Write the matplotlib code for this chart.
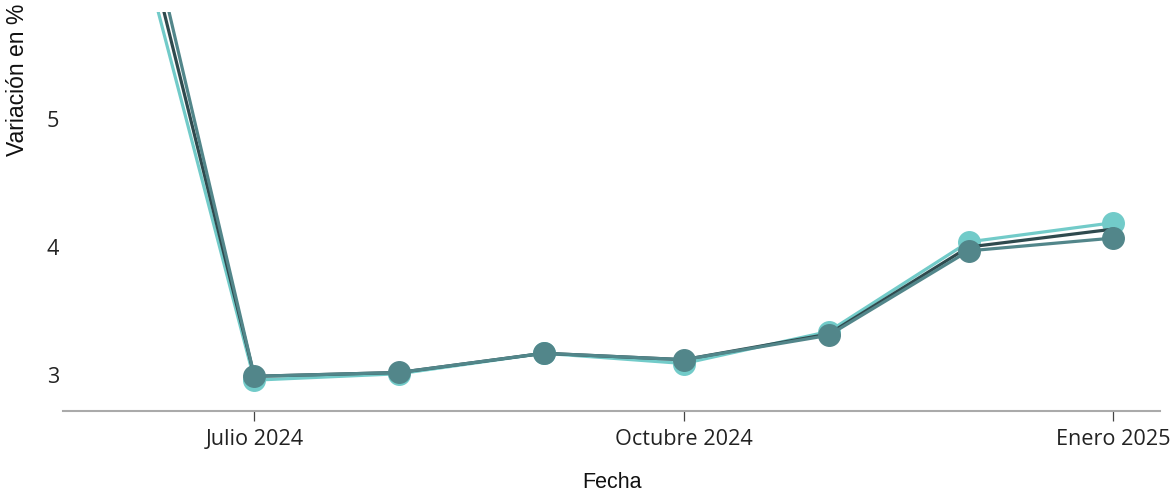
import numpy as np
import pandas as pd
import matplotlib
matplotlib.use("Agg")
import matplotlib.pyplot as plt

# data (monthly, % variation)
fechas = pd.to_datetime(["2024-06-01", "2024-07-01", "2024-08-01", "2024-09-01",
                         "2024-10-01", "2024-11-01", "2024-12-01", "2025-01-01"])
serie_clara = [7.15, 2.96, 3.01, 3.17, 3.09, 3.34, 4.04, 4.19]
serie_oscura = [7.40, 2.99, 3.02, 3.17, 3.12, 3.32, 4.00, 4.14]
serie_media = [7.66, 2.99, 3.02, 3.17, 3.12, 3.31, 3.97, 4.07]

tick_fechas = pd.to_datetime(["2024-07-01", "2024-10-01", "2025-01-01"])
tick_labels = ["Julio 2024", "Octubre 2024", "Enero 2025"]
y_ticks = [3, 4, 5]

col_clara = "#72cbc9"
col_oscura = "#2f4a4e"
col_media = "#52868a"

fig = plt.figure(figsize=(11.72, 5.0), dpi=100)
ax = fig.add_axes([63/1172, 1-411/500, (1160-63)/1172, (411-12)/500])

ax.plot(fechas, serie_clara, color=col_clara, lw=2.3, marker="o", ms=15.5,
        solid_capstyle="round", zorder=2)
ax.plot(fechas, serie_oscura, color=col_oscura, lw=2.3, zorder=3)
ax.plot(fechas, serie_media, color=col_media, lw=2.3, marker="o", ms=15.5,
        solid_capstyle="round", zorder=4)

ax.set_xlim(pd.Timestamp("2024-05-21"), pd.Timestamp("2025-01-11"))
ax.set_ylim(2.719, 5.836)

ax.set_xticks(tick_fechas)
ax.set_xticklabels(tick_labels, fontfamily="Open Sans", fontsize=15.6, color="#222222")
ax.set_yticks(y_ticks)
ax.set_yticklabels([str(v) for v in y_ticks], fontfamily="Open Sans", fontsize=15.6,
                   color="#222222")
ax.tick_params(axis="x", length=7, width=0.9, color="#444444", pad=6)
ax.tick_params(axis="y", length=0, pad=3)

for s in ["top", "right", "left"]:
    ax.spines[s].set_visible(False)
ax.spines["bottom"].set_color("#aaaaaa")
ax.spines["bottom"].set_linewidth(1.5)

fig.text(611.5/1172, 1-483/500, "Fecha", fontfamily="Liberation Sans", fontsize=15.5,
         ha="center", va="center", color="#111111")
fig.text(18/1172, 1-156/500, "Variación en %", fontfamily="Liberation Sans", fontsize=16.5,
         rotation=90, ha="center", va="bottom", color="#111111")

fig.savefig("out.png", dpi=100)
